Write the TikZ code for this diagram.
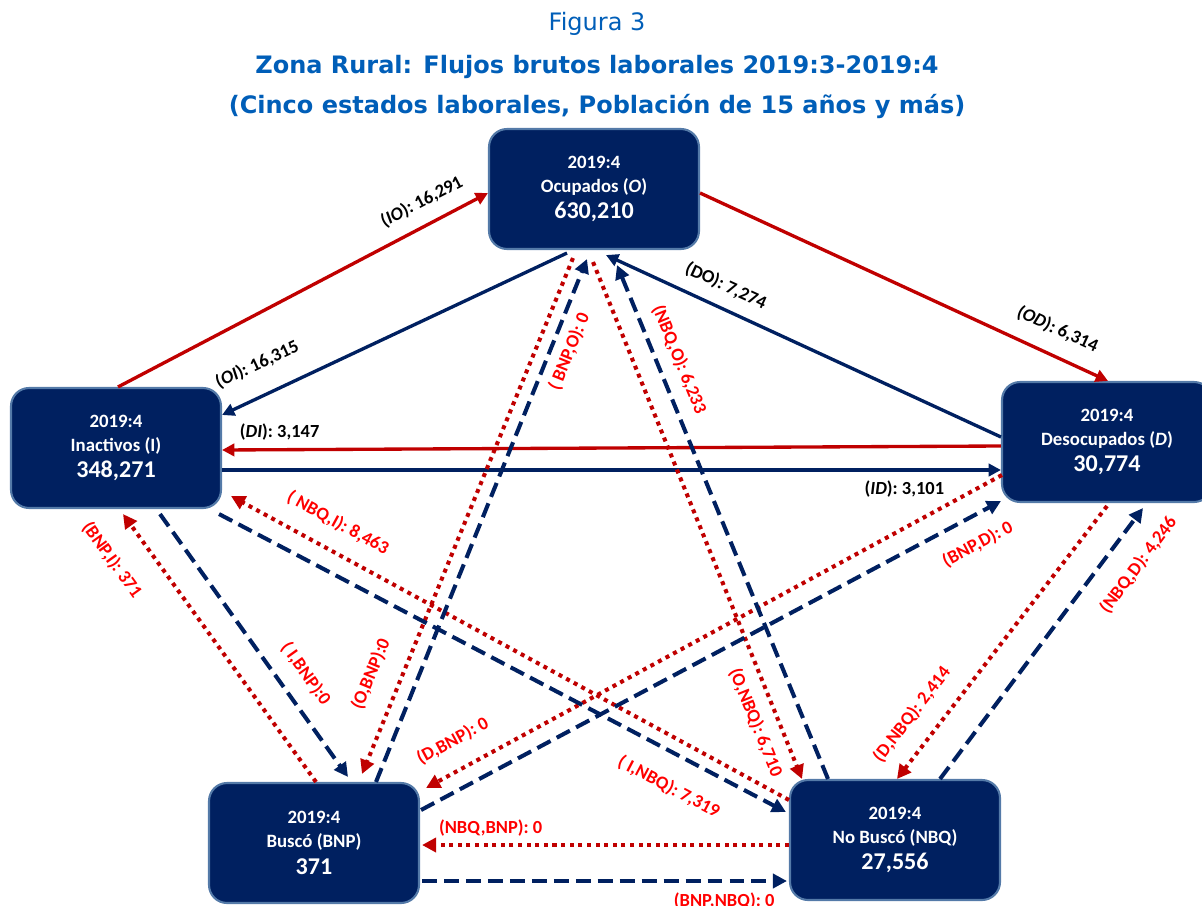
\documentclass[tikz,border=0pt]{standalone}
\usepackage{fontspec}
\setmainfont{Carlito}
\newfontfamily\titlefont{DejaVu Sans}
\usetikzlibrary{shapes,positioning,calc,arrows,arrows.meta}

\definecolor{navy}{RGB}{0,32,96}
\definecolor{boxrim}{RGB}{84,122,168}
\definecolor{flowred}{RGB}{192,0,0}
\definecolor{labred}{RGB}{255,0,0}
\definecolor{titleblue}{RGB}{0,94,184}

\newcommand{\statnum}[1]{{\fontsize{13.7}{15}\selectfont #1}}

\begin{document}
\begin{tikzpicture}[x=0.02cm, y=-0.02cm, every node/.style={},
    statebox/.style={rectangle, rounded corners=0.36cm, fill=navy, draw=boxrim,
        line width=1.2pt, minimum width=4.2cm, minimum height=2.4cm, inner sep=0pt,
        text=white, align=center, font=\bfseries\fontsize{10.7}{13.7}\selectfont},
    headline/.style={font=\titlefont\fontsize{13.66}{16}\selectfont, text=titleblue,
        anchor=base, inner sep=0pt},
    solidred/.style={flowred, line width=1.9pt, -{Triangle[length=7pt,width=7pt]}},
    solidnavy/.style={navy, line width=1.9pt, -{Triangle[length=7pt,width=7pt]}},
    dotred/.style={flowred, line width=2.3pt, dash pattern=on 2.3pt off 2.6pt,
        -{Triangle[length=8pt,width=8pt]}},
    dashnavy/.style={navy, line width=2.3pt, dash pattern=on 8.5pt off 4pt,
        -{Triangle[length=8pt,width=8pt]}},
    flowlab/.style={font=\bfseries\fontsize{10.5}{12}\selectfont, inner sep=1pt, sloped},
    blacklab/.style={flowlab, text=black},
    redlab/.style={flowlab, text=labred}
    ]
    \useasboundingbox (0,0) rectangle (1202,905);

    % titulo
    \node[headline] (fig) at (597,31) {Figura 3};
    \node[headline, font=\titlefont\bfseries\fontsize{13.66}{16}\selectfont] (tit1) at (597,74)
        {Zona Rural: Flujos brutos laborales 2019:3-2019:4};
    \node[headline, font=\titlefont\bfseries\fontsize{13.66}{16}\selectfont] (tit2) at (597,114)
        {(Cinco estados laborales, Población de 15 años y más)};

    % estados
    \node[statebox] (O) at (594,189) {2019:4\\Ocupados (\textit{O})\\[1.4pt]\statnum{630,210}};
    \node[statebox] (I) at (116,448) {2019:4\\Inactivos (I)\\[1.4pt]\statnum{348,271}};
    \node[statebox] (D) at (1107,442) {2019:4\\Desocupados (\textit{D})\\[1.4pt]\statnum{30,774}};
    \node[statebox] (BNP) at (314,843) {2019:4\\Buscó (BNP)\\[1.4pt]\statnum{371}};
    \node[statebox] (NBQ) at (895,840) {2019:4\\No Buscó (NBQ)\\[1.4pt]\statnum{27,556}};

    % flujos O, I, D
    \draw[solidred] ($(I.north)+(2,0)$) -- ($(O.west)+(0,4)$)
        node[blacklab, pos=0.85, above=6.5pt] (lIO) {(\textit{IO}): 16,291};
    \draw[solidred] ($(O.east)+(0,4)$) -- ($(D.north)+(1,0)$)
        node[blacklab, pos=0.85, above=8pt] (lOD) {(\textit{OD}): 6,314};
    \draw[solidred] ($(D.west)+(0,4)$) -- ($(I.east)+(0,2)$)
        node[blacklab, pos=0.926, above=3.5pt] (lDI) {(\textit{DI}): 3,147};
    \draw[solidnavy] ($(O.south)+(-27,3)$) -- ($(I.east)+(0,-33)$)
        node[blacklab, pos=0.86, above=11pt] (lOI) {(\textit{OI}): 16,315};
    \draw[solidnavy] ($(D.west)+(0,-5)$) -- ($(O.south)+(12,5)$)
        node[blacklab, pos=0.72, above=6pt] (lDO) {(DO): 7,274};
    \draw[solidnavy] ($(I.east)+(0,22)$) -- ($(D.west)+(0,28)$)
        node[blacklab, pos=0.876, below=4.2pt] (lID) {(\textit{ID}): 3,101};

    % flujos con BNP y NBQ
    \draw[dotred] ($(O.south)+(-21,8)$) -- ($(BNP.north)+(48,-8)$)
        node[redlab, pos=0.828, above=10pt] (lOB) {(O,BNP):0};
    \draw[dotred] ($(O.south)+(-1,12)$) -- ($(NBQ.north)+(-93,0)$)
        node[redlab, pos=0.875, below=5.6pt] (lON) {(O,NBQ): 6,710};
    \draw[dotred] ($(BNP.north)+(2,0)$) -- ($(I.south)+(7,5)$)
        node[redlab, pos=0.907, below=13.5pt] (lBI) {(BNP,I): 371};
    \draw[dotred] ($(NBQ.west)+(0,-40)$) -- ($(I.south east)+(9,-13)$)
        node[redlab, pos=0.832, above=8.8pt] (lNI) {( NBQ,I): 8,463};
    \draw[dotred] ($(D.west)+(1,33)$) -- ($(BNP.east)+(6,-55)$)
        node[redlab, pos=0.93, above=9.4pt] (lDB) {(D,BNP): 0};
    \draw[dotred] ($(D.south)+(0,3)$) -- ($(NBQ.north)+(2,0)$)
        node[redlab, pos=0.825, above=8.8pt] (lDN) {(D,NBQ): 2,414};
    \draw[dotred] ($(NBQ.west)+(0,5)$) -- ($(BNP.east)+(2,2)$)
        node[redlab, pos=0.813, above=3pt] (lNB) {(NBQ,BNP): 0};

    \draw[dashnavy] ($(BNP.north)+(62,0)$) -- ($(O.south)+(-7,9)$)
        node[redlab, pos=0.836, below=3.5pt] (lBO) {( BNP,O): 0};
    \draw[dashnavy] ($(NBQ.north)+(-67,0)$) -- ($(O.south)+(23,15)$)
        node[redlab, pos=0.8, above=5.5pt] (lNO) {(NBQ,O): 6,233};
    \draw[dashnavy] ($(I.south)+(44,5)$) -- ($(BNP.north)+(34,-5)$)
        node[redlab, pos=0.665, above=7.7pt] (lIB) {( I,BNP):0};
    \draw[dashnavy] ($(I.south east)+(-3,5)$) -- ($(NBQ.west)+(-3,-28)$)
        node[redlab, pos=0.82, below=11.6pt] (lIN) {( I,NBQ): 7,319};
    \draw[dashnavy] ($(BNP.east)+(1,-33)$) -- ($(D.south west)+(0,-2)$)
        node[redlab, pos=0.938, below=8.6pt] (lBD) {(BNP,D): 0};
    \draw[dashnavy] ($(NBQ.north)+(45,0)$) -- ($(D.south)+(36,5)$)
        node[redlab, pos=0.857, below=10.5pt] (lND) {(NBQ,D): 4,246};
    \draw[dashnavy] ($(BNP.east)+(2,38)$) -- ($(NBQ.west)+(-2,41)$)
        node[redlab, pos=0.828, below=4.8pt] (lBN) {(BNP,NBQ): 0};

\end{tikzpicture}
\end{document}
